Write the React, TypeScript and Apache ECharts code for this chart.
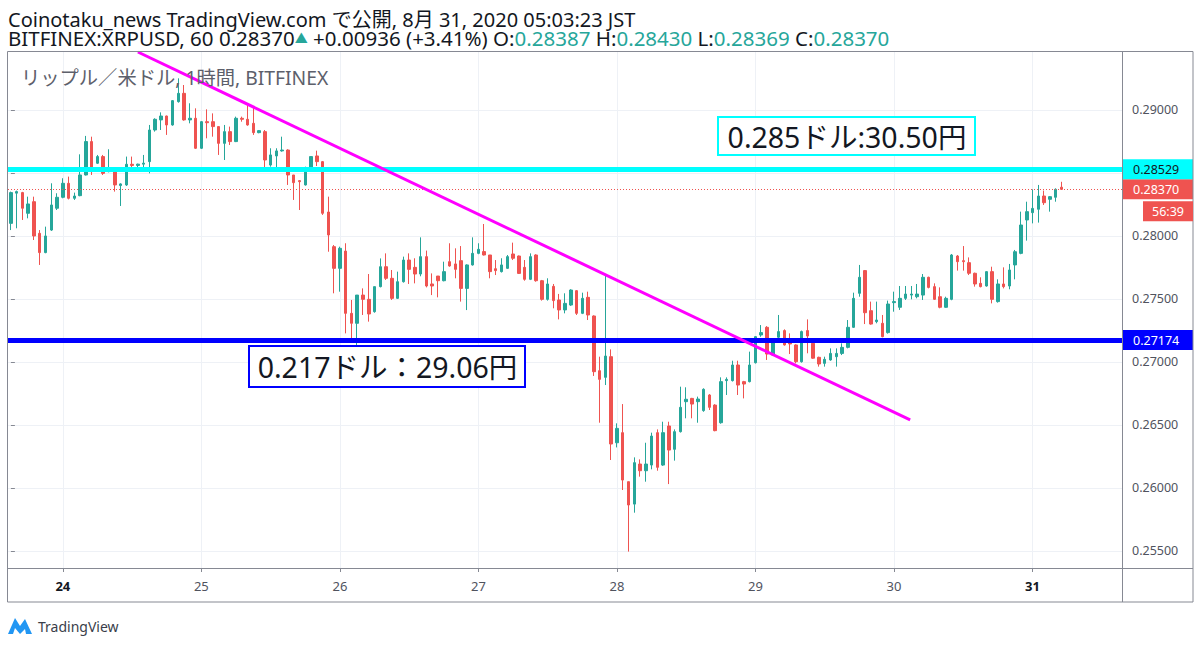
import React, { useEffect, useRef } from "react";
import * as echarts from "echarts";

const FONT = '"Noto Sans", "Noto Sans CJK JP", sans-serif';
const UP = "#26a69a";
const DOWN = "#ef5350";
const FRAME = "#868993";
const GRID = "#eef1f6";
const AXIS_TEXT = "#50535e";
const INK = "#131722";

// [open, close, low, high] — hourly candles, BITFINEX:XRPUSD (JST)
const aug23 = [
  [0.281, 0.28344, 0.28047, 0.28352], [0.2834, 0.28352, 0.28061, 0.2836], [0.28344, 0.2822, 0.28127, 0.2835],
  [0.2818, 0.28254, 0.2814, 0.28312], [0.28272, 0.28, 0.27968, 0.28312], [0.28021, 0.27868, 0.2777, 0.28047],
  [0.27868, 0.28, 0.27863, 0.28074], [0.28047, 0.28246, 0.2804, 0.28418], [0.2822, 0.28307, 0.28206, 0.28339],
];
const aug24 = [
  [0.28307, 0.28418, 0.28299, 0.28458], [0.28418, 0.28299, 0.2829, 0.28471], [0.28299, 0.28317, 0.28286, 0.28344],
  [0.2832, 0.28484, 0.28315, 0.28648], [0.28484, 0.28749, 0.2848, 0.28794], [0.28749, 0.28511, 0.28484, 0.28788],
  [0.28577, 0.2863, 0.28571, 0.28643], [0.2863, 0.28497, 0.28484, 0.28643], [0.28511, 0.28524, 0.28505, 0.28688],
  [0.28524, 0.28405, 0.28352, 0.28534], [0.284, 0.28413, 0.28238, 0.28418], [0.28405, 0.28569, 0.28397, 0.2863],
  [0.28569, 0.2856, 0.28537, 0.2863], [0.2856, 0.2857, 0.28537, 0.28574], [0.2857, 0.28578, 0.28524, 0.28643],
  [0.2859, 0.28841, 0.28497, 0.28881], [0.28841, 0.28926, 0.28828, 0.28934], [0.28921, 0.28952, 0.28841, 0.28981],
  [0.28952, 0.28881, 0.28802, 0.28955], [0.28881, 0.29074, 0.28875, 0.29079], [0.29066, 0.29132, 0.29058, 0.29251],
  [0.29132, 0.28921, 0.28915, 0.29198], [0.28921, 0.28934, 0.28894, 0.29053], [0.28934, 0.28696, 0.2869, 0.29013],
];
const aug25 = [
  [0.28696, 0.28907, 0.2869, 0.28912], [0.28907, 0.28899, 0.28775, 0.29005], [0.28907, 0.28868, 0.28788, 0.28973],
  [0.28868, 0.28735, 0.28643, 0.2887], [0.28735, 0.28828, 0.28603, 0.28881], [0.28828, 0.28749, 0.28722, 0.28868],
  [0.28749, 0.28934, 0.28745, 0.28947], [0.28934, 0.28926, 0.28907, 0.28947], [0.28926, 0.28881, 0.28875, 0.29053],
  [0.28894, 0.2882, 0.28802, 0.29027], [0.2882, 0.28836, 0.28815, 0.28841], [0.28828, 0.28603, 0.28537, 0.28841],
  [0.28563, 0.28643, 0.2855, 0.28696], [0.28635, 0.28675, 0.28545, 0.28696], [0.28675, 0.28682, 0.28669, 0.28788],
  [0.28682, 0.28484, 0.28405, 0.28688], [0.28484, 0.28423, 0.28286, 0.28484], [0.28439, 0.28431, 0.28206, 0.28444],
  [0.28405, 0.28537, 0.284, 0.2855], [0.28537, 0.2863, 0.28511, 0.2863], [0.28635, 0.2859, 0.28555, 0.28677],
  [0.2859, 0.2818, 0.28167, 0.28595], [0.2819, 0.28008, 0.27875, 0.28312], [0.27915, 0.27743, 0.27545, 0.27928],
];
const aug26 = [
  [0.27743, 0.27902, 0.27558, 0.27915], [0.2788, 0.27386, 0.27227, 0.27942], [0.27386, 0.27307, 0.27174, 0.27492],
  [0.27307, 0.27531, 0.2706, 0.27531], [0.27531, 0.27497, 0.27373, 0.27584], [0.27497, 0.27381, 0.2732, 0.27698],
  [0.27399, 0.27598, 0.27391, 0.27598], [0.27598, 0.27756, 0.27592, 0.27822], [0.27756, 0.27664, 0.27651, 0.27862],
  [0.27664, 0.27505, 0.27492, 0.2773], [0.27505, 0.27637, 0.275, 0.27717], [0.27637, 0.27809, 0.2763, 0.27836],
  [0.27809, 0.27735, 0.27619, 0.27862], [0.27751, 0.27698, 0.27624, 0.27823], [0.27698, 0.27836, 0.2768, 0.27989],
  [0.27836, 0.27603, 0.27592, 0.27884], [0.27619, 0.27603, 0.27531, 0.27703], [0.27682, 0.27645, 0.27513, 0.27682],
  [0.27645, 0.27717, 0.2764, 0.27796], [0.27796, 0.27762, 0.27756, 0.27942], [0.27778, 0.27735, 0.27664, 0.27902],
  [0.27804, 0.27584, 0.27479, 0.2792], [0.27584, 0.2777, 0.27412, 0.27775], [0.2777, 0.27862, 0.27765, 0.27989],
];
const aug27 = [
  [0.27862, 0.27894, 0.27855, 0.27942], [0.27876, 0.27849, 0.27845, 0.28095], [0.27849, 0.27717, 0.27664, 0.27849],
  [0.2774, 0.27725, 0.2769, 0.27809], [0.27717, 0.2777, 0.2771, 0.27823], [0.27743, 0.27836, 0.27738, 0.27849],
  [0.27857, 0.27823, 0.27809, 0.27947], [0.27841, 0.27703, 0.27698, 0.27845], [0.27751, 0.27656, 0.27645, 0.27809],
  [0.27656, 0.27836, 0.2765, 0.27862], [0.27849, 0.27645, 0.27637, 0.27855], [0.27645, 0.27497, 0.27487, 0.27651],
  [0.27497, 0.27619, 0.27487, 0.27664], [0.276, 0.27487, 0.27426, 0.27619], [0.27492, 0.27413, 0.27338, 0.2754],
  [0.27413, 0.27465, 0.27386, 0.27545], [0.27452, 0.27571, 0.27445, 0.27577], [0.27566, 0.27386, 0.27373, 0.27571],
  [0.27386, 0.27505, 0.2738, 0.2755], [0.27513, 0.27373, 0.27333, 0.27558], [0.27365, 0.26923, 0.26889, 0.2737],
  [0.26931, 0.26862, 0.26518, 0.27042], [0.26878, 0.27047, 0.26817, 0.2769], [0.27042, 0.26349, 0.26222, 0.271],
];
const aug28 = [
  [0.26359, 0.26473, 0.26322, 0.26513], [0.26439, 0.26063, 0.25984, 0.26666], [0.2605, 0.25865, 0.25495, 0.2605],
  [0.25872, 0.26201, 0.25804, 0.26243], [0.2619, 0.26137, 0.2609, 0.26227], [0.26137, 0.2619, 0.2605, 0.26359],
  [0.26182, 0.26412, 0.26148, 0.26439], [0.26439, 0.26164, 0.26137, 0.26465], [0.26182, 0.26439, 0.26175, 0.26526],
  [0.26492, 0.26301, 0.26031, 0.26526], [0.26307, 0.26447, 0.26217, 0.26465], [0.26447, 0.2664, 0.2644, 0.26804],
  [0.26685, 0.26704, 0.26553, 0.26799], [0.26711, 0.26666, 0.26553, 0.26715], [0.26685, 0.26706, 0.26518, 0.26725],
  [0.26614, 0.26783, 0.26605, 0.26791], [0.26738, 0.2664, 0.26619, 0.26745], [0.26658, 0.26455, 0.2645, 0.26665],
  [0.26518, 0.26844, 0.2651, 0.26878], [0.26852, 0.26862, 0.26738, 0.26878], [0.26852, 0.26976, 0.26845, 0.2701],
  [0.26976, 0.26817, 0.26738, 0.2701], [0.26844, 0.26825, 0.26711, 0.2685], [0.26844, 0.26976, 0.26838, 0.27082],
];
const aug29 = [
  [0.26994, 0.27201, 0.26988, 0.27206], [0.27214, 0.27233, 0.272, 0.27293], [0.27275, 0.27063, 0.27016, 0.27285],
  [0.27055, 0.27174, 0.2705, 0.2718], [0.27196, 0.27241, 0.2719, 0.27373], [0.27249, 0.27135, 0.2713, 0.27259],
  [0.27153, 0.27143, 0.27063, 0.27227], [0.27135, 0.27002, 0.26989, 0.2714], [0.27002, 0.27241, 0.26995, 0.27249],
  [0.27249, 0.27206, 0.27069, 0.27338], [0.27148, 0.2703, 0.27025, 0.27153], [0.27037, 0.26984, 0.26963, 0.27042],
  [0.26989, 0.27021, 0.26963, 0.27042], [0.27016, 0.27068, 0.2701, 0.27108], [0.27042, 0.27068, 0.26963, 0.27108],
  [0.27068, 0.27116, 0.27055, 0.27148], [0.27116, 0.27275, 0.27108, 0.27333], [0.27275, 0.27505, 0.2727, 0.2755],
  [0.27545, 0.27672, 0.27518, 0.2777], [0.27725, 0.27391, 0.27301, 0.2773], [0.27407, 0.27301, 0.27296, 0.27479],
  [0.2732, 0.27333, 0.27307, 0.27479], [0.27307, 0.27201, 0.27196, 0.27373], [0.27233, 0.2746, 0.27225, 0.27487],
];
const aug30 = [
  [0.27471, 0.27479, 0.27399, 0.27558], [0.27434, 0.27505, 0.27413, 0.27603], [0.27505, 0.27539, 0.27492, 0.27603],
  [0.27531, 0.27539, 0.27497, 0.27603], [0.27518, 0.27539, 0.27505, 0.27619], [0.27531, 0.27672, 0.27492, 0.27698],
  [0.27672, 0.27592, 0.27584, 0.27677], [0.27598, 0.27497, 0.27492, 0.27624], [0.27518, 0.27434, 0.27426, 0.27592],
  [0.27434, 0.27505, 0.2743, 0.27518], [0.27497, 0.27849, 0.2749, 0.27857], [0.27841, 0.27796, 0.27725, 0.27849],
  [0.27804, 0.27796, 0.27725, 0.2792], [0.27788, 0.27704, 0.2769, 0.2783], [0.27704, 0.27619, 0.27598, 0.27709],
  [0.27624, 0.27598, 0.27592, 0.27672], [0.27603, 0.27717, 0.27598, 0.2772], [0.27717, 0.27497, 0.27465, 0.27756],
  [0.27479, 0.27619, 0.27471, 0.27656], [0.27619, 0.27598, 0.27584, 0.27751], [0.27603, 0.2773, 0.27577, 0.27778],
  [0.2777, 0.27875, 0.27656, 0.27889], [0.27862, 0.28087, 0.27855, 0.28193], [0.28127, 0.28193, 0.27963, 0.28272],
];
const aug31 = [
  [0.28185, 0.28219, 0.281, 0.2837], [0.28212, 0.28317, 0.28106, 0.28405], [0.28317, 0.28264, 0.28246, 0.2836],
  [0.28291, 0.28312, 0.28193, 0.28317], [0.28307, 0.2837, 0.28272, 0.28378], [0.28387, 0.2837, 0.28369, 0.2843],
];
const candles = [...aug23, ...aug24, ...aug25, ...aug26, ...aug27, ...aug28, ...aug29, ...aug30, ...aug31];

// hourly slots from Aug 23 15:00 (JST), including empty slots to the right
const START_DAY = 23;
const START_HOUR = 15;
const SLOT_COUNT = 193;
const categories: string[] = [];
for (let i = 0; i < SLOT_COUNT; i++) {
  const t = START_HOUR + i;
  const d = START_DAY + Math.floor(t / 24);
  const h = t % 24;
  categories.push(`08-${d} ${String(h).padStart(2, "0")}:00`);
}
const boldDays = ["24", "31"];

const priceTicks = [0.255, 0.26, 0.265, 0.27, 0.275, 0.28, 0.285, 0.29];
const hiddenTick = 0.285;
const Y_MIN = 0.25365;
const Y_MAX = 0.2946;
const resistanceLevel = 0.28529;
const supportLevel = 0.27174;
// trend line anchors: [slot index, price]
const trendLine = [
  [22.0, 0.2946],
  [155.8, 0.2654],
];
const changeText = "+0.00936 (+3.41%)";
const countdownText = "56:39";

export default function App() {
  const ref = useRef<HTMLDivElement>(null);
  useEffect(() => {
    const chart = echarts.init(ref.current!, null, { renderer: "svg" });
    const isDayStart = (_i: number, v: string) => v.endsWith(" 00:00");
    const last = candles[candles.length - 1];
    const fmt = (v: number) => v.toFixed(5);

    const tag = (bg: string, fg: string, text: string) => ({
      show: true,
      position: "end",
      distance: 1,
      formatter: text,
      color: fg,
      backgroundColor: bg,
      padding: [3, 4, 3, 10],
      width: 56,
      lineHeight: 14,
      fontSize: 12.5,
      fontFamily: FONT,
      align: "left",
    });

    chart.setOption({
      animation: false,
      backgroundColor: "#ffffff",
      grid: { left: 8, top: 52, width: 1114, height: 516, containLabel: false },
      xAxis: [
        {
          type: "category",
          data: categories,
          boundaryGap: true,
          axisLine: { show: false },
          axisTick: { show: true, interval: isDayStart, alignWithLabel: true, length: 4, lineStyle: { color: FRAME } },
          axisLabel: {
            interval: isDayStart,
            margin: 11,
            formatter: (v: string) => {
              const day = v.slice(3, 5);
              return boldDays.includes(day) ? `{b|${day}}` : `{n|${day}}`;
            },
            rich: {
              b: { fontWeight: "bold", color: INK, fontSize: 13, fontFamily: FONT },
              n: { color: AXIS_TEXT, fontSize: 13, fontFamily: FONT },
            },
          },
          splitLine: { show: true, interval: isDayStart, alignWithLabel: true, lineStyle: { color: GRID, width: 1 } },
        },
        { type: "value", min: -0.5, max: SLOT_COUNT - 0.5, show: false },
      ],
      yAxis: {
        type: "value",
        position: "right",
        min: Y_MIN,
        max: Y_MAX,
        scale: true,
        axisLine: { show: false },
        axisTick: { show: true, customValues: priceTicks, length: 4, lineStyle: { color: FRAME } },
        axisLabel: {
          customValues: priceTicks,
          margin: 10,
          color: AXIS_TEXT,
          fontSize: 12.5,
          fontFamily: FONT,
          formatter: (v: number) => (Math.abs(v - hiddenTick) < 1e-9 ? "" : fmt(v)),
        },
        splitLine: { show: true, lineStyle: { color: GRID, width: 1 } },
      },
      series: [
        {
          type: "candlestick",
          xAxisIndex: 0,
          yAxisIndex: 0,
          data: candles,
          barWidth: 3,
          z: 3,
          itemStyle: { color: UP, color0: DOWN, borderColor: UP, borderColor0: DOWN, borderWidth: 1 },
        },
        {
          type: "line",
          xAxisIndex: 0,
          yAxisIndex: 0,
          data: [],
          clip: false,
          z: 4,
          markLine: {
            silent: true,
            symbol: ["none", "none"],
            precision: 5,
            z: 4,
            emphasis: { disabled: true },
            data: [
              { yAxis: last[1], lineStyle: { color: DOWN, width: 1, type: [1, 2] }, label: tag(DOWN, "#ffffff", fmt(last[1])) },
              { yAxis: resistanceLevel, lineStyle: { color: "#00ffff", width: 5, type: "solid" }, label: tag("#00ffff", INK, fmt(resistanceLevel)) },
              { yAxis: supportLevel, lineStyle: { color: "#0000ff", width: 5, type: "solid" }, label: tag("#0000ff", "#ffffff", fmt(supportLevel)) },
            ],
          },
        },
        {
          type: "line",
          xAxisIndex: 1,
          yAxisIndex: 0,
          data: trendLine,
          symbol: "none",
          z: 6,
          lineStyle: { color: "#ff00ff", width: 3 },
        },
      ],
    });

    const yLast = chart.convertToPixel({ yAxisIndex: 0 }, last[1]) as number;
    const line2 =
      `{d|BITFINEX:XRPUSD, 60 ${fmt(last[1])}}{t|▲}{d| ${changeText} O:}{g|${fmt(last[0])}}` +
      `{d| H:}{g|${fmt(last[3])}}{d| L:}{g|${fmt(last[2])}}{d| C:}{g|${fmt(last[1])}}`;

    chart.setOption({
      graphic: [
        {
          type: "text", x: 8, y: 19, z: 100,
          style: { text: "Coinotaku_news TradingView.com で公開, 8月 31, 2020 05:03:23 JST", fontSize: 20, fontFamily: FONT, fill: INK, align: "left", verticalAlign: "middle" },
        },
        {
          type: "text", x: 8, y: 37.5, z: 100,
          style: {
            text: line2, fontSize: 20.5, fontFamily: FONT, fill: INK, align: "left", verticalAlign: "middle",
            rich: {
              d: { fontSize: 20.5, fontFamily: FONT, fill: INK, lineHeight: 17 },
              g: { fontSize: 20.5, fontFamily: FONT, fill: UP, lineHeight: 17 },
              t: { fontSize: 13, fontFamily: FONT, fill: UP, lineHeight: 17 },
            },
          },
        },
        {
          type: "text", x: 21, y: 77, z: 100,
          style: { text: "リップル／米ドル, 1時間, BITFINEX", fontSize: 19.3, fontFamily: FONT, fill: "#5d606b", align: "left", verticalAlign: "middle" },
        },
        { type: "rect", z: 90, shape: { x: 7.5, y: 51.5, width: 1185.5, height: 550.5 }, style: { fill: "transparent", stroke: FRAME, lineWidth: 1 }, silent: true },
        { type: "line", z: 90, shape: { x1: 1122.5, y1: 51.5, x2: 1122.5, y2: 602 }, style: { stroke: FRAME, lineWidth: 1 }, silent: true },
        { type: "line", z: 90, shape: { x1: 7.5, y1: 568.5, x2: 1193, y2: 568.5 }, style: { stroke: FRAME, lineWidth: 1 }, silent: true },
        // annotation boxes
        { type: "rect", z: 95, shape: { x: 718, y: 117, width: 257, height: 38 }, style: { fill: "#ffffff", stroke: "#00ffff", lineWidth: 2 } },
        {
          type: "text", x: 847, y: 136.5, z: 96,
          style: { text: "0.285ドル:30.50円", fontSize: 28.5, fontFamily: FONT, fill: INK, align: "center", verticalAlign: "middle" },
        },
        { type: "rect", z: 95, shape: { x: 249, y: 346, width: 276, height: 41 }, style: { fill: "#ffffff", stroke: "#0000ff", lineWidth: 2 } },
        {
          type: "text", x: 387.5, y: 367, z: 96,
          style: { text: "0.217ドル：29.06円", fontSize: 28.5, fontFamily: FONT, fill: INK, align: "center", verticalAlign: "middle" },
        },
        // countdown under the last price tag
        { type: "rect", z: 95, shape: { x: 1143, y: yLast + 12, width: 50, height: 20 }, style: { fill: DOWN } },
        {
          type: "text", x: 1168, y: yLast + 22, z: 96,
          style: { text: countdownText, fontSize: 12.5, fontFamily: FONT, fill: "#ffffff", align: "center", verticalAlign: "middle" },
        },
        // TradingView logo
        {
          type: "polygon", z: 95,
          shape: { points: [[8, 634], [15, 618], [20, 626], [25, 619], [32, 634], [26, 634], [25, 629], [20, 634], [15, 628], [13, 634]] },
          style: { fill: "#2196f3" },
        },
        {
          type: "text", x: 38, y: 626, z: 96,
          style: { text: "TradingView", fontSize: 14, fontFamily: FONT, fill: "#3a3e4a", align: "left", verticalAlign: "middle" },
        },
      ],
    });

    return () => chart.dispose();
  }, []);

  return (
    <div
      ref={ref}
      style={{ position: "fixed", left: 0, top: 0, width: 1200, height: 647, background: "#ffffff" }}
    />
  );
}
